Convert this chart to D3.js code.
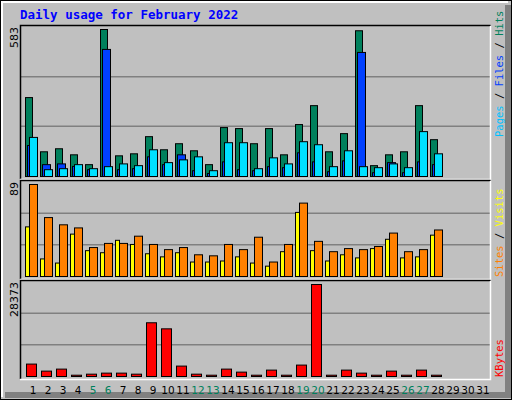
<!DOCTYPE html>
<html><head><meta charset="utf-8">
<script src="https://cdn.jsdelivr.net/npm/d3@7"></script>
<style>body{margin:0;background:#fff}svg{display:block}</style>
</head><body><svg id="chart" width="512" height="400"></svg>
<script>
var days = d3.range(1, 32);
var weekend = [5, 6, 12, 13, 19, 20, 26, 27];
var hits   = [313,98,110,86,47,583,82,90,158,106,130,102,47,194,190,130,190,86,206,281,98,170,578,43,86,98,281,146];
var files  = [123,47,50,40,27,504,27,31,78,47,86,23,12,58,27,23,39,35,94,58,19,62,492,15,55,15,58,47];
var pages  = [155,27,31,47,31,39,50,43,106,55,66,78,23,134,134,31,74,50,138,126,39,102,39,35,50,35,178,90];
var visits = [48,17,13,41,25,23,35,31,22,19,23,14,14,15,19,13,10,24,62,25,15,21,18,27,36,18,19,40];
var sites  = [89,57,50,47,28,32,32,39,31,26,28,21,20,31,26,38,14,31,71,34,24,27,26,29,42,24,26,45];
var kbytes = [3830,1660,2280,400,720,1040,1040,720,16570,14700,3210,720,400,2280,1350,400,1970,400,3520,28373,400,1970,1040,400,1660,400,1970,400];

var svg = d3.select("#chart");
var mono = "'DejaVu Sans Mono', monospace";

// frame
svg.append("rect").attr("x", 0.5).attr("y", 0.5).attr("width", 511).attr("height", 399).attr("fill", "#c0c0c0").attr("stroke", "#000");
svg.append("path").attr("d", "M2,397V2H508").attr("fill", "none").attr("stroke", "#fff").attr("stroke-width", 2);
svg.append("path").attr("d", "M508,5V395H5").attr("fill", "none").attr("stroke", "#808080").attr("stroke-width", 6);

svg.append("text").attr("x", 20).attr("y", 19).attr("fill", "#0000ff").attr("font-family", mono)
  .attr("font-weight", "bold").attr("font-size", 12.5).text("Daily usage for February 2022");

var x = d3.scaleBand().domain(days).range([25, 25 + 15 * 31]).paddingInner(0);

var panels = [
  {top: 25, base: 176, max: 583, label: "583", series: [
    {data: hits, dx: 0, w: 7, color: "#00805c"},
    {data: files, dx: 2, w: 8, color: "#0040ff"},
    {data: pages, dx: 4, w: 8, color: "#00e0ff"}],
   legend: [["Pages", "#00c0ff"], [" / ", "#000"], ["Files", "#0040ff"], [" / ", "#000"], ["Hits", "#00805c"]], ly: 137},
  {top: 180, base: 276, max: 89, label: "89", series: [
    {data: visits, dx: 0, w: 4, color: "#ffff00"},
    {data: sites, dx: 4, w: 8, color: "#ff8000"}],
   legend: [["Sites", "#ff8000"], [" / ", "#000"], ["Visits", "#ffff00"]], ly: 277},
  {top: 280, base: 376, max: 28373, label: "28373", series: [
    {data: kbytes, dx: 1, w: 10, color: "#ff0000"}],
   legend: [["KBytes", "#ff0000"]], ly: 377}
];

panels.forEach(function(p){
  var g = svg.append("g");
  var h = p.base - p.top;
  var y = d3.scaleLinear().domain([0, p.max]).range([p.base, p.top + 4]);
  g.append("rect").attr("x", 20).attr("y", p.top).attr("width", 470).attr("height", h + 3).attr("fill", "#c0c0c0");
  [1, 2].forEach(function(k){
    var gy = p.base - k * (h - 2) / 3;
    g.append("line").attr("x1", 21).attr("x2", 490).attr("y1", gy).attr("y2", gy).attr("stroke", "#808080").attr("stroke-width", 1.5);
  });
  g.append("path").attr("d", "M20.5," + (p.base + 3) + "V" + (p.top + 0.5) + "H490.5")
    .attr("fill", "none").attr("stroke", "#000").attr("stroke-width", 1.5);
  g.append("path").attr("d", "M490.5," + (p.top + 1) + "V" + (p.base + 3.5) + "H20")
    .attr("fill", "none").attr("stroke", "#fff").attr("stroke-width", 1.5);

  p.series.forEach(function(s){
    g.selectAll(null).data(s.data).enter().append("rect")
      .attr("x", function(d, i){ return x(i + 1) + s.dx + 0.5; })
      .attr("y", function(d){ return Math.min(y(d), p.base - 1) + 0.5; })
      .attr("width", s.w)
      .attr("height", function(d){ return Math.max(p.base - y(d), 1); })
      .attr("fill", s.color).attr("stroke", "#000").attr("stroke-width", 1);
  });

  g.append("text").attr("transform", "translate(18," + (p.top + 2) + ") rotate(-90)")
    .attr("text-anchor", "end").attr("font-family", "'DejaVu Sans', sans-serif").attr("font-size", 11).text(p.label);

  var t = g.append("text").attr("transform", "translate(503," + p.ly + ") rotate(-90)")
    .attr("font-family", mono).attr("font-size", 10.5);
  p.legend.forEach(function(l){ t.append("tspan").attr("fill", l[1]).text(l[0]); });
});

svg.append("g").selectAll("text").data(days).enter().append("text")
  .attr("x", function(d){ return x(d) + 8; }).attr("y", 394).attr("text-anchor", "middle")
  .attr("font-family", "'DejaVu Sans', sans-serif").attr("font-size", 10.5)
  .attr("fill", function(d){ return weekend.indexOf(d) >= 0 ? "#00805c" : "#000"; })
  .text(function(d){ return d; });
</script></body></html>
